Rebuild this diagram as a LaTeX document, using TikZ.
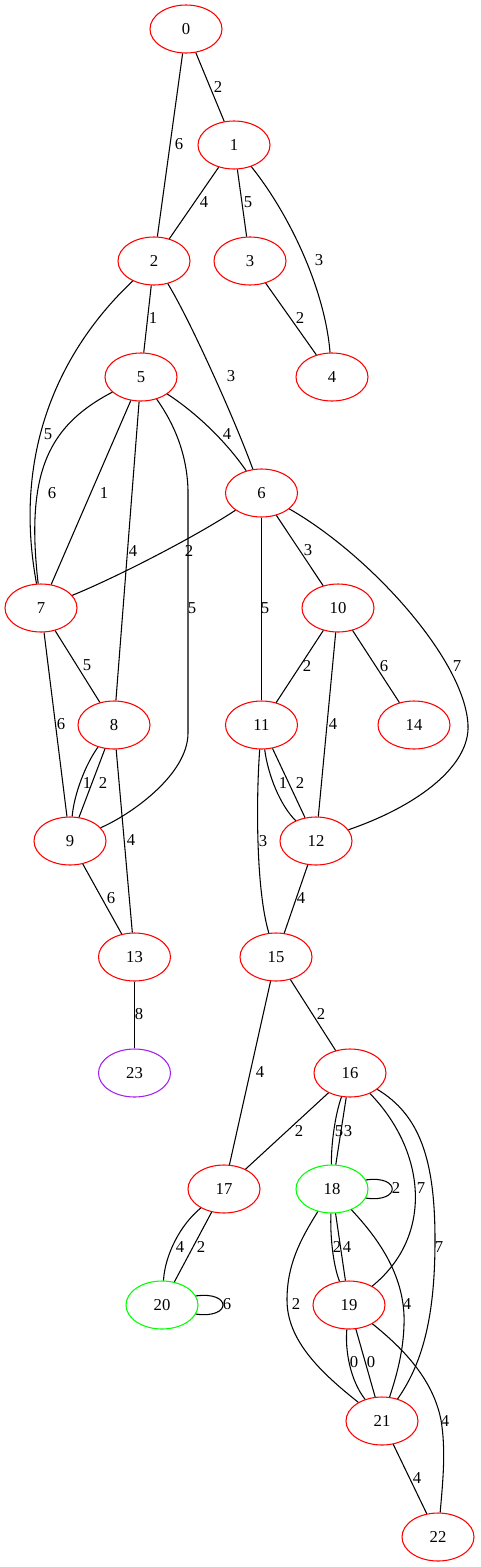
\documentclass[tikz,border=0pt]{standalone}
\usepackage{fontspec}
\setmainfont{Liberation Serif}
\usetikzlibrary{shapes.geometric}
\definecolor{gvgreen}{RGB}{0,255,0}
\definecolor{gvpurple}{RGB}{160,32,240}
\tikzset{
	vtx/.style={ellipse, draw=red, line width=0.8pt, minimum width=54pt, minimum height=36pt, inner sep=0pt, font=\fontsize{12.5pt}{15pt}\selectfont},
	lbl/.style={inner sep=0pt, font=\fontsize{12.5pt}{15pt}\selectfont},
	edge/.style={line width=0.8pt, color=black}
}

\begin{document}
\begin{tikzpicture}[x=0.75pt, y=0.75pt]
			%%%%% START %%%%%
			\useasboundingbox (0,0) rectangle (480,-1567);
			
			\node[vtx] (n0) at (186,-29) {0};
			\node[vtx] (n1) at (234,-145) {1};
			\node[vtx] (n2) at (154,-261) {2};
			\node[vtx] (n3) at (250,-261) {3};
			\node[vtx] (n4) at (332,-377) {4};
			\node[vtx] (n5) at (141,-377) {5};
			\node[vtx] (n6) at (261.5,-493) {6};
			\node[vtx] (n7) at (41,-608) {7};
			\node[vtx] (n10) at (338,-608) {10};
			\node[vtx] (n8) at (114,-725) {8};
			\node[vtx] (n11) at (261.5,-725) {11};
			\node[vtx] (n14) at (414,-725) {14};
			\node[vtx] (n9) at (70,-841) {9};
			\node[vtx] (n12) at (316,-841) {12};
			\node[vtx] (n13) at (134.5,-957) {13};
			\node[vtx] (n15) at (276,-957) {15};
			\node[vtx, draw=gvpurple] (n23) at (134.5,-1073) {23};
			\node[vtx] (n16) at (350,-1073) {16};
			\node[vtx] (n17) at (224,-1189) {17};
			\node[vtx, draw=gvgreen] (n18) at (332,-1189) {18};
			\node[vtx, draw=gvgreen] (n20) at (162,-1305) {20};
			\node[vtx] (n19) at (349,-1305) {19};
			\node[vtx] (n21) at (382,-1421) {21};
			\node[vtx] (n22) at (438,-1537) {22};
			
			\draw[edge] (n0) -- (n1) node[lbl] at (218,-87) {2};
			\draw[edge] (n0) -- (n2) node[lbl] at (179,-144) {6};
			\draw[edge] (n1) -- (n2) node[lbl] at (204,-202) {4};
			\draw[edge] (n1) -- (n3) node[lbl] at (248,-202) {5};
			\draw[edge] (n1) .. controls (290,-215) and (325,-290) .. (n4) node[lbl] at (319,-260) {3};
			\draw[edge] (n3) -- (n4) node[lbl] at (300,-318) {2};
			\draw[edge] (n2) -- (n5) node[lbl] at (153,-318) {1};
			\draw[edge] (n2) .. controls (190,-320) and (235,-420) .. (n6) node[lbl] at (231,-376) {3};
			\draw[edge] (n2) .. controls (70,-340) and (10,-440) .. (n7) node[lbl] at (48,-434) {5};
			
			\draw[edge] (n5) .. controls (50,-425) and (25,-470) .. (n7) node[lbl] at (52,-493) {6};
			\draw[edge] (n5) -- (n7) node[lbl] at (104,-493) {1};
			\draw[edge] (n5) -- (n8) node[lbl] at (133,-551) {4};
			\draw[edge] (n5) .. controls (175,-425) and (187,-455) .. (188,-490) -- (188,-733)
				.. controls (188,-775) and (130,-815) .. (n9) node[lbl] at (192,-608) {5};
			\draw[edge] (n5) .. controls (195,-412) and (225,-440) .. (n6) node[lbl] at (227,-434) {4};
			
			\draw[edge] (n6) .. controls (195,-537) and (115,-578) .. (n7) node[lbl] at (189,-551) {2};
			\draw[edge] (n6) -- (n10) node[lbl] at (308,-550) {3};
			\draw[edge] (n6) -- (n11) node[lbl] at (265,-608) {5};
			\draw[edge] (n6) .. controls (370,-555) and (465,-660) .. (468,-725)
				.. controls (470,-765) and (420,-805) .. (n12) node[lbl] at (457,-666) {7};
			
			\draw[edge] (n7) -- (n8) node[lbl] at (87,-665) {5};
			\draw[edge] (n7) -- (n9) node[lbl] at (61,-724) {6};
			\draw[edge] (n8) .. controls (85,-765) and (74,-795) .. (n9) node[lbl] at (87,-783) {1};
			\draw[edge] (n8) -- (n9) node[lbl] at (103,-783) {2};
			\draw[edge] (n8) -- (n13) node[lbl] at (131,-840) {4};
			
			\draw[edge] (n10) -- (n11) node[lbl] at (307,-666) {2};
			\draw[edge] (n10) -- (n14) node[lbl] at (384,-666) {6};
			\draw[edge] (n10) -- (n12) node[lbl] at (333,-724) {4};
			\draw[edge] (n11) .. controls (268,-775) and (280,-805) .. (n12) node[lbl] at (283,-783) {1};
			\draw[edge] (n11) -- (n12) node[lbl] at (300,-783) {2};
			\draw[edge] (n11) .. controls (256,-800) and (256,-890) .. (n15) node[lbl] at (263,-841) {3};
			\draw[edge] (n12) -- (n15) node[lbl] at (301,-898) {4};
			
			\draw[edge] (n9) -- (n13) node[lbl] at (111,-898) {6};
			\draw[edge] (n13) -- (n23) node[lbl] at (139,-1014) {8};
			\draw[edge] (n15) -- (n16) node[lbl] at (321,-1014) {2};
			\draw[edge] (n15) -- (n17) node[lbl] at (260,-1072) {4};
			
			\draw[edge] (n16) -- (n17) node[lbl] at (299,-1131) {2};
			\draw[edge] (n16) .. controls (335,-1115) and (331,-1145) .. (n18) node[lbl] at (339,-1131) {5};
			\draw[edge] (n16) -- (n18) node[lbl] at (348,-1131) {3};
			\draw[edge] (n16) .. controls (425,-1150) and (435,-1235) .. (n19) node[lbl] at (421,-1188) {7};
			\draw[edge] (n16) .. controls (420,-1115) and (435,-1160) .. (435,-1240)
				.. controls (435,-1310) and (425,-1360) .. (n21) node[lbl] at (439,-1247) {7};
			\draw[edge] (n18.15) .. controls (401,-1175) and (401,-1203) .. (n18.-15) node[lbl] at (396,-1188) {2};
			
			\draw[edge] (n17) .. controls (180,-1225) and (165,-1255) .. (n20) node[lbl] at (180,-1247) {4};
			\draw[edge] (n17) -- (n20) node[lbl] at (201,-1247) {2};
			\draw[edge] (n20.15) .. controls (232,-1291) and (232,-1319) .. (n20.-15) node[lbl] at (227,-1304) {6};
			
			\draw[edge] (n18) .. controls (330,-1235) and (333,-1265) .. (n19) node[lbl] at (337,-1247) {2};
			\draw[edge] (n18) -- (n19) node[lbl] at (347,-1247) {4};
			\draw[edge] (n18) .. controls (300,-1240) and (287,-1265) .. (287,-1300)
				.. controls (287,-1340) and (320,-1372) .. (n21) node[lbl] at (296,-1304) {2};
			\draw[edge] (n18) .. controls (375,-1235) and (402,-1270) .. (404,-1315)
				.. controls (405,-1350) and (395,-1380) .. (n21) node[lbl] at (407,-1304) {4};
			
			\draw[edge] (n19) .. controls (345,-1350) and (350,-1380) .. (n21) node[lbl] at (354,-1362) {0};
			\draw[edge] (n19) -- (n21) node[lbl] at (371,-1362) {0};
			\draw[edge] (n19) .. controls (405,-1350) and (433,-1380) .. (441,-1420)
				.. controls (446,-1450) and (443,-1480) .. (n22) node[lbl] at (445,-1421) {4};
			\draw[edge] (n21) -- (n22) node[lbl] at (417,-1478) {4};
			
			%%%%% END %%%%%
\end{tikzpicture}
\end{document}
